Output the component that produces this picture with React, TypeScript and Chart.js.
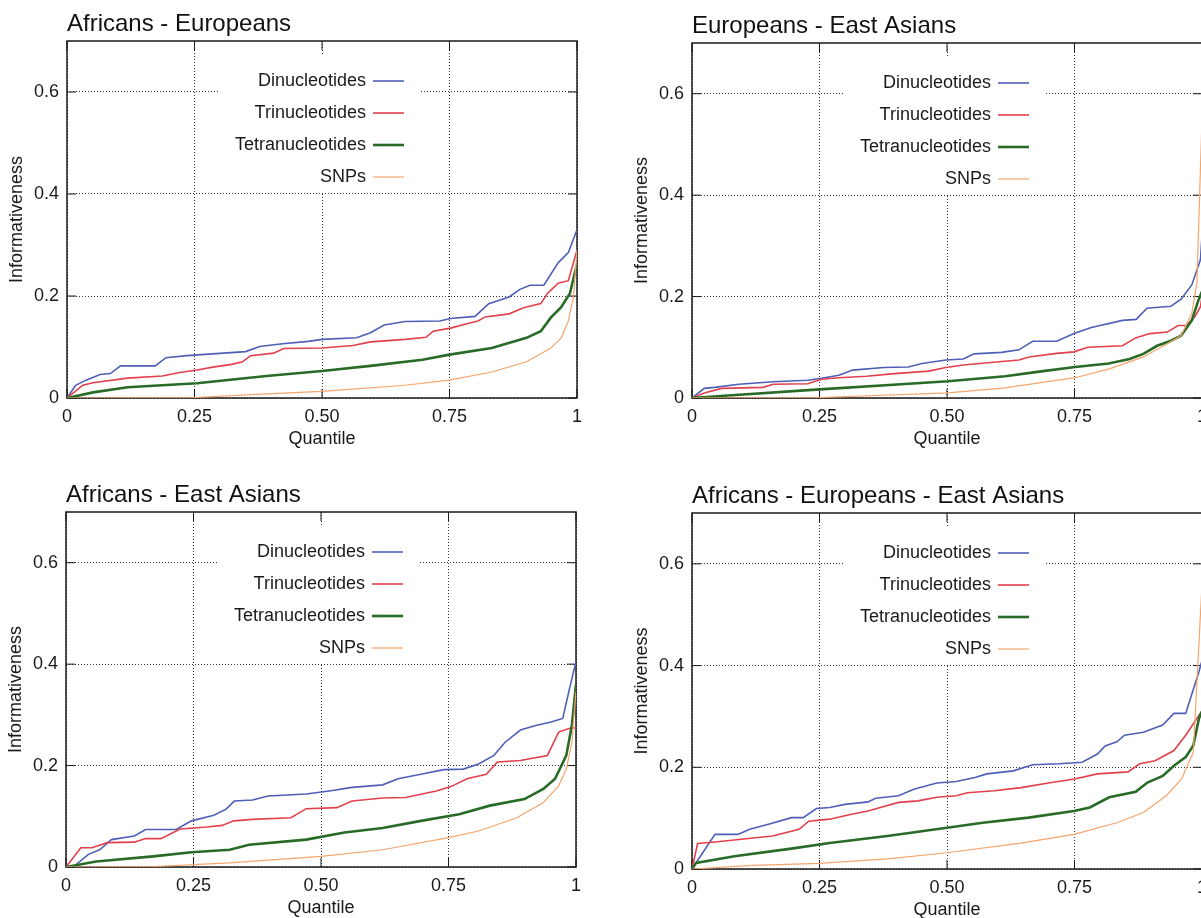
import React, { useEffect, useRef } from "react";
import { Chart, registerables } from "chart.js";
Chart.register(...registerables);

// ---------- data ----------
const SERIES_NAMES = ["Dinucleotides", "Trinucleotides", "Tetranucleotides", "SNPs"];
const X_TICKS = [0, 0.25, 0.5, 0.75, 1];
const X_TICK_LABELS = ["0", "0.25", "0.50", "0.75", "1"];
const Y_TICKS = [0, 0.2, 0.4, 0.6];
const Y_TICK_LABELS = ["0", "0.2", "0.4", "0.6"];
const Y_MAX = 0.7;
const X_TITLE = "Quantile";
const Y_TITLE = "Informativeness";
const PANEL_TITLES = [
  "Africans - Europeans",
  "Europeans - East Asians",
  "Africans - East Asians",
  "Africans - Europeans - East Asians",
];

// Africans - Europeans  [quantile, informativeness]
const AE_DI = [[0,0],[0.017,0.025],[0.037,0.035],[0.065,0.046],[0.085,0.048],[0.105,0.063],[0.173,0.063],[0.194,0.079],[0.235,0.083],[0.35,0.091],[0.378,0.101],[0.418,0.106],[0.473,0.111],[0.5,0.115],[0.568,0.118],[0.595,0.128],[0.622,0.143],[0.663,0.15],[0.731,0.151],[0.752,0.156],[0.8,0.16],[0.827,0.185],[0.867,0.198],[0.888,0.213],[0.908,0.221],[0.935,0.221],[0.963,0.265],[0.983,0.285],[1,0.33]];
const AE_TRI = [[0,0],[0.031,0.025],[0.051,0.03],[0.119,0.039],[0.187,0.043],[0.221,0.05],[0.255,0.055],[0.289,0.061],[0.323,0.066],[0.344,0.071],[0.36,0.083],[0.405,0.088],[0.425,0.097],[0.5,0.098],[0.561,0.103],[0.595,0.11],[0.663,0.115],[0.704,0.119],[0.718,0.131],[0.752,0.137],[0.786,0.146],[0.806,0.151],[0.82,0.159],[0.867,0.165],[0.895,0.177],[0.929,0.185],[0.942,0.205],[0.963,0.225],[0.983,0.23],[1,0.29]];
const AE_TETRA = [[0,0],[0.051,0.011],[0.119,0.021],[0.255,0.029],[0.391,0.043],[0.5,0.053],[0.595,0.063],[0.697,0.075],[0.75,0.085],[0.833,0.098],[0.901,0.118],[0.929,0.131],[0.949,0.158],[0.969,0.178],[0.986,0.205],[0.997,0.251],[1,0.26]];
const AE_SNP = [[0,0],[0.25,0.001],[0.391,0.008],[0.5,0.013],[0.663,0.025],[0.75,0.035],[0.833,0.051],[0.901,0.071],[0.949,0.098],[0.969,0.118],[0.983,0.151],[0.993,0.198],[1,0.29]];

// Europeans - East Asians
const EEA_DI = [[0,0],[0.024,0.019],[0.044,0.021],[0.092,0.027],[0.159,0.032],[0.227,0.035],[0.254,0.039],[0.288,0.045],[0.315,0.055],[0.376,0.06],[0.424,0.061],[0.451,0.068],[0.498,0.075],[0.532,0.077],[0.553,0.087],[0.607,0.09],[0.641,0.095],[0.668,0.112],[0.715,0.112],[0.749,0.127],[0.783,0.139],[0.844,0.153],[0.871,0.155],[0.892,0.177],[0.939,0.181],[0.959,0.195],[0.98,0.223],[0.997,0.273],[1,0.32]];
const EEA_TRI = [[0,0],[0.024,0.01],[0.058,0.019],[0.139,0.021],[0.159,0.027],[0.227,0.028],[0.254,0.037],[0.288,0.04],[0.342,0.043],[0.397,0.048],[0.464,0.053],[0.498,0.06],[0.532,0.065],[0.586,0.07],[0.641,0.075],[0.661,0.081],[0.715,0.088],[0.749,0.091],[0.776,0.1],[0.844,0.103],[0.871,0.119],[0.898,0.127],[0.932,0.13],[0.953,0.143],[0.969,0.143],[0.986,0.16],[0.997,0.18],[1,0.2]];
const EEA_TETRA = [[0,0],[0.071,0.005],[0.25,0.017],[0.41,0.027],[0.502,0.033],[0.614,0.043],[0.681,0.052],[0.751,0.061],[0.817,0.068],[0.858,0.077],[0.885,0.087],[0.912,0.103],[0.939,0.113],[0.959,0.123],[0.98,0.153],[0.993,0.193],[1,0.21]];
const EEA_SNP = [[0,0],[0.25,0.001],[0.502,0.01],[0.614,0.02],[0.751,0.04],[0.817,0.057],[0.885,0.081],[0.932,0.107],[0.959,0.123],[0.98,0.167],[0.99,0.227],[1,0.55]];

// Africans - East Asians
const AEA_DI = [[0,0],[0.014,0],[0.044,0.025],[0.066,0.034],[0.089,0.054],[0.134,0.061],[0.156,0.074],[0.216,0.074],[0.246,0.091],[0.29,0.102],[0.314,0.114],[0.33,0.13],[0.366,0.132],[0.396,0.14],[0.471,0.144],[0.516,0.15],[0.561,0.157],[0.621,0.162],[0.651,0.174],[0.696,0.183],[0.741,0.192],[0.779,0.193],[0.809,0.203],[0.839,0.22],[0.861,0.246],[0.891,0.27],[0.921,0.279],[0.951,0.286],[0.974,0.293],[0.989,0.359],[1,0.405]];
const AEA_TRI = [[0,0],[0.029,0.038],[0.051,0.038],[0.081,0.048],[0.134,0.049],[0.156,0.056],[0.186,0.056],[0.224,0.075],[0.276,0.079],[0.306,0.082],[0.329,0.091],[0.366,0.094],[0.441,0.097],[0.471,0.115],[0.531,0.117],[0.561,0.13],[0.621,0.136],[0.666,0.137],[0.726,0.15],[0.756,0.159],[0.786,0.174],[0.824,0.183],[0.846,0.207],[0.891,0.21],[0.944,0.22],[0.966,0.266],[0.989,0.274],[1,0.274]];
const AEA_TETRA = [[0,0],[0.059,0.011],[0.171,0.021],[0.246,0.029],[0.321,0.034],[0.359,0.044],[0.471,0.054],[0.546,0.068],[0.621,0.077],[0.696,0.091],[0.771,0.104],[0.831,0.121],[0.899,0.134],[0.936,0.154],[0.959,0.174],[0.981,0.22],[0.992,0.28],[1,0.36]];
const AEA_SNP = [[0,0],[0.171,0.001],[0.321,0.008],[0.5,0.021],[0.621,0.034],[0.75,0.058],[0.809,0.071],[0.884,0.097],[0.936,0.127],[0.966,0.16],[0.981,0.193],[0.992,0.246],[1,0.346]];

// Africans - Europeans - East Asians
const AEEA_DI = [[0,0],[0.045,0.068],[0.09,0.068],[0.113,0.078],[0.15,0.088],[0.195,0.101],[0.218,0.101],[0.244,0.119],[0.27,0.121],[0.3,0.127],[0.345,0.132],[0.36,0.139],[0.405,0.144],[0.435,0.157],[0.48,0.169],[0.518,0.172],[0.555,0.18],[0.578,0.187],[0.63,0.193],[0.668,0.205],[0.72,0.207],[0.765,0.21],[0.795,0.226],[0.81,0.242],[0.833,0.25],[0.848,0.263],[0.885,0.269],[0.923,0.283],[0.945,0.306],[0.968,0.306],[0.994,0.388],[1,0.41]];
const AEEA_TRI = [[0,0],[0.011,0.05],[0.045,0.053],[0.12,0.061],[0.158,0.065],[0.21,0.078],[0.229,0.094],[0.27,0.098],[0.315,0.108],[0.345,0.114],[0.405,0.131],[0.443,0.134],[0.48,0.141],[0.518,0.144],[0.54,0.15],[0.593,0.154],[0.645,0.16],[0.705,0.17],[0.75,0.177],[0.795,0.187],[0.855,0.191],[0.878,0.207],[0.908,0.213],[0.945,0.233],[0.968,0.263],[0.994,0.302],[1,0.31]];
const AEEA_TETRA = [[0,0],[0.008,0.012],[0.083,0.025],[0.195,0.04],[0.27,0.051],[0.383,0.065],[0.5,0.081],[0.57,0.091],[0.66,0.101],[0.749,0.114],[0.78,0.121],[0.818,0.141],[0.87,0.152],[0.893,0.17],[0.923,0.183],[0.945,0.203],[0.968,0.22],[0.983,0.243],[0.994,0.296],[1,0.31]];
const AEEA_SNP = [[0,0],[0.12,0.007],[0.249,0.011],[0.383,0.02],[0.5,0.032],[0.645,0.051],[0.749,0.068],[0.833,0.091],[0.885,0.111],[0.93,0.144],[0.96,0.177],[0.983,0.23],[1,0.56]];

const PANEL_SERIES = [
  [AE_DI, AE_TRI, AE_TETRA, AE_SNP],
  [EEA_DI, EEA_TRI, EEA_TETRA, EEA_SNP],
  [AEA_DI, AEA_TRI, AEA_TETRA, AEA_SNP],
  [AEEA_DI, AEEA_TRI, AEEA_TETRA, AEEA_SNP],
];

// ---------- style ----------
const FONT = '"Liberation Sans", Arial, Helvetica, sans-serif';
const TEXT = "#1a1a1a";
const SMALL = 18;
const COLORS = ["#4f5fb6", "#e2404c", "#276b27", "#f4a56c"];
const WIDTHS = [1.6, 1.6, 2.6, 1.2];
const ORDERS = [4, 3, 2, 1];

// plot-area placement of each panel (page px)
const AREAS = [
  { L: 67, T: 41, B: 398 },
  { L: 692, T: 43, B: 398 },
  { L: 66, T: 512, B: 867 },
  { L: 692, T: 513, B: 869 },
];
const PLOT_W = 510;
const AXIS_W = 67;
const AXIS_H = 62;
const TOP_PAD = 45;
const RIGHT_PAD = 23;

const decorPlugin = {
  id: "decor",
  beforeDatasetsDraw(chart: any, _args: any, opts: any) {
    const { ctx, chartArea: a, scales } = chart;
    const line = (x1: number, y1: number, x2: number, y2: number) => {
      ctx.beginPath();
      ctx.moveTo(x1, y1);
      ctx.lineTo(x2, y2);
      ctx.stroke();
    };
    ctx.save();
    // legend background (blanks the grid)
    ctx.fillStyle = "#ffffff";
    ctx.fillRect(a.left + 151, a.top + 13, 202, 139);
    // frame
    ctx.strokeStyle = TEXT;
    ctx.lineWidth = 1.5;
    ctx.strokeRect(a.left, a.top, a.right - a.left, a.bottom - a.top);
    // inward tick marks
    ctx.lineWidth = 1;
    for (const v of X_TICKS) {
      const x = scales.x.getPixelForValue(v);
      line(x, a.top, x, a.top + 9);
      line(x, a.bottom, x, a.bottom - 9);
    }
    for (const v of Y_TICKS) {
      const y = scales.y.getPixelForValue(v);
      line(a.left, y, a.left + 9, y);
      line(a.right, y, a.right - 9, y);
    }
    // legend
    ctx.font = `${SMALL}px ${FONT}`;
    ctx.textAlign = "right";
    ctx.textBaseline = "middle";
    chart.data.datasets.forEach((ds: any, i: number) => {
      const y = a.top + 40 + 32 * i;
      ctx.fillStyle = TEXT;
      ctx.fillText(ds.label, a.left + 299, y);
      ctx.strokeStyle = ds.borderColor;
      ctx.lineWidth = ds.borderWidth;
      line(a.left + 306, y, a.left + 337, y);
    });
    // title
    ctx.font = `24px ${FONT}`;
    ctx.textAlign = "left";
    ctx.fillStyle = "#111";
    ctx.fillText(opts.title, a.left, a.top - 17);
    ctx.restore();
  },
};

function Panel({ index }: { index: number }) {
  const ref = useRef<HTMLCanvasElement>(null);
  const area = AREAS[index];
  const height = area.B - area.T + TOP_PAD + AXIS_H;
  const width = AXIS_W + PLOT_W + RIGHT_PAD;

  useEffect(() => {
    if (!ref.current) return;
    const datasets = PANEL_SERIES[index].map((s, i) => ({
      label: SERIES_NAMES[i],
      data: s.map(([x, y]) => ({ x, y })),
      borderColor: COLORS[i],
      backgroundColor: COLORS[i],
      borderWidth: WIDTHS[i],
      pointRadius: 0,
      tension: 0,
      fill: false,
      order: ORDERS[i],
    }));
    const chart = new Chart(ref.current, {
      type: "line",
      data: { datasets },
      plugins: [decorPlugin],
      options: {
        animation: false,
        responsive: false,
        layout: { padding: { top: TOP_PAD, right: RIGHT_PAD, left: 0, bottom: 0 } },
        plugins: {
          legend: { display: false },
          tooltip: { enabled: false },
          decor: { title: PANEL_TITLES[index] },
        } as any,
        scales: {
          x: {
            type: "linear",
            min: 0,
            max: 1,
            afterBuildTicks: (s: any) => {
              s.ticks = X_TICKS.map((v) => ({ value: v }));
            },
            afterFit: (s: any) => {
              s.height = AXIS_H;
            },
            ticks: {
              padding: 8,
              color: TEXT,
              font: { family: FONT, size: SMALL },
              maxRotation: 0,
              callback: (v: any) => X_TICK_LABELS[X_TICKS.indexOf(Number(v))] ?? "",
            },
            grid: { color: "rgba(0,0,0,0.8)", lineWidth: 1, drawTicks: false },
            border: { display: false, dash: [1, 2] },
            title: {
              display: true,
              text: X_TITLE,
              color: TEXT,
              font: { family: FONT, size: SMALL },
              padding: { top: 0, bottom: 10 },
            },
          },
          y: {
            type: "linear",
            min: 0,
            max: Y_MAX,
            afterBuildTicks: (s: any) => {
              s.ticks = Y_TICKS.map((v) => ({ value: v }));
            },
            afterFit: (s: any) => {
              s.width = AXIS_W;
            },
            ticks: {
              padding: 8,
              color: TEXT,
              font: { family: FONT, size: SMALL },
              callback: (v: any) => Y_TICK_LABELS[Y_TICKS.indexOf(Number(v))] ?? "",
            },
            grid: { color: "rgba(0,0,0,0.8)", lineWidth: 1, drawTicks: false },
            border: { display: false, dash: [1, 2] },
            title: {
              display: true,
              text: Y_TITLE,
              color: TEXT,
              font: { family: FONT, size: SMALL },
              padding: { top: 6, bottom: 0 },
            },
          },
        },
      } as any,
    });
    return () => chart.destroy();
  }, [index]);

  return (
    <canvas
      ref={ref}
      width={width}
      height={height}
      style={{
        position: "absolute",
        left: area.L - AXIS_W,
        top: area.T - TOP_PAD,
        width,
        height,
        display: "block",
      }}
    />
  );
}

export default function App() {
  return (
    <div
      style={{
        position: "fixed",
        left: 0,
        top: 0,
        width: 1201,
        height: 918,
        overflow: "hidden",
        background: "#ffffff",
      }}
    >
      {[0, 1, 2, 3].map((i) => (
        <Panel key={i} index={i} />
      ))}
    </div>
  );
}
